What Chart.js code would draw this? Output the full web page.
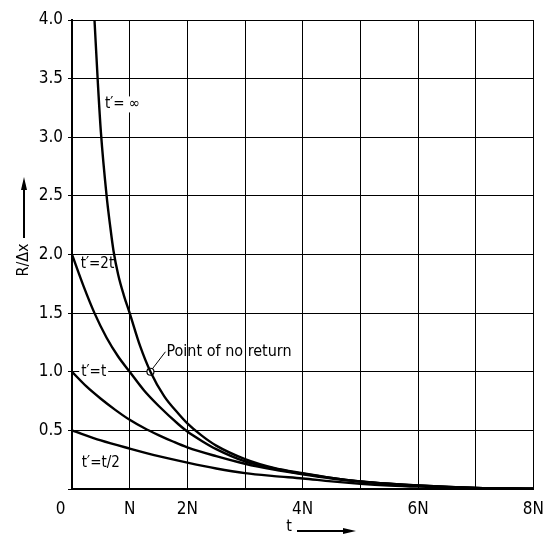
<!DOCTYPE html>
<html>
<head>
<meta charset="utf-8">
<script src="https://cdn.jsdelivr.net/npm/chart.js@4"></script>
<style>
  html, body { margin: 0; padding: 0; background: #fff; }
  #wrap { width: 554px; height: 537px; }
</style>
</head>
<body>
<div id="wrap"><canvas id="myChart" width="554" height="537"></canvas></div>
<script>
// t in units of N, values R/dx
const tInf = [0.39, 0.45, 0.5, 0.6, 0.66, 0.72, 0.8, 0.9, 1.0, 1.18, 1.36, 1.6, 1.85, 2.0, 2.25, 2.5, 3.0, 3.5, 4.0, 4.5, 5.0, 5.5, 6.0, 7.0, 8.0];
const vInf = [4.0, 3.45, 3.05, 2.5, 2.25, 2.03, 1.83, 1.65, 1.5, 1.22, 1.0, 0.79, 0.64, 0.56, 0.455, 0.37, 0.255, 0.18, 0.135, 0.095, 0.065, 0.045, 0.03, 0.01, 0.003];

const t2t = [0, 0.2, 0.39, 0.6, 0.8, 1.0, 1.25, 1.5, 1.85, 2.0, 2.25, 2.5, 3.0, 3.5, 4.0, 4.5, 5.0, 5.5, 6.0, 7.0, 8.0];
const v2t = [2.0, 1.73, 1.5, 1.29, 1.13, 1.0, 0.84, 0.71, 0.55, 0.49, 0.41, 0.34, 0.235, 0.175, 0.13, 0.095, 0.065, 0.045, 0.03, 0.01, 0.003];

const t1t = [0, 0.25, 0.5, 0.75, 1.0, 1.25, 1.5, 1.75, 2.0, 2.5, 3.0, 3.5, 4.0, 4.5, 5.0, 5.5, 6.0, 7.0, 8.0];
const v1t = [1.0, 0.875, 0.77, 0.675, 0.59, 0.52, 0.46, 0.405, 0.355, 0.28, 0.215, 0.165, 0.125, 0.09, 0.063, 0.043, 0.028, 0.01, 0.003];

const tHalf = [0, 0.5, 1.0, 1.5, 2.0, 2.5, 3.0, 3.5, 4.0, 4.5, 5.0, 5.5, 6.0, 7.0, 8.0];
const vHalf = [0.5, 0.415, 0.345, 0.28, 0.225, 0.175, 0.135, 0.11, 0.09, 0.065, 0.045, 0.03, 0.02, 0.007, 0.002];

const noReturn = [1.36, 1.0];

const xTickLabels = ['0\u2002\u2002\u2002', 'N', '2N', '', '4N', '', '6N', '', '8N'];
const yMax = 4.0;

const FONT = "'Liberation Sans Narrow', 'DejaVu Sans Condensed', sans-serif";

function pts(xs, ys) {
  return xs.map((x, i) => ({x: x, y: ys[i]}));
}

function curve(label, xs, ys) {
  return {
    label: label,
    data: pts(xs, ys),
    borderColor: '#000',
    borderWidth: 2.4,
    pointRadius: 0,
    cubicInterpolationMode: 'monotone',
    fill: false
  };
}

const decor = {
  id: 'decor',
  // curve labels sit under the curves, over the grid
  beforeDatasetsDraw(chart) {
    const c = chart.ctx;
    const xs = chart.scales.x, ys = chart.scales.y;
    c.save();
    c.font = '15px ' + FONT;
    c.textBaseline = 'middle';
    c.textAlign = 'left';
    const labels = [
      ["t\u2032= \u221E", 0.57, 3.28],
      ["t\u2032=2t", 0.15, 1.92],
      ["t\u2032=t", 0.16, 1.0],
      ["t\u2032=t/2", 0.17, 0.22]
    ];
    labels.forEach(l => {
      const px = xs.getPixelForValue(l[1]);
      const py = ys.getPixelForValue(l[2]);
      const w = c.measureText(l[0]).width;
      c.fillStyle = '#fff';
      c.fillRect(px - 2, py - 8, w + 4, 16);
      c.fillStyle = '#000';
      c.fillText(l[0], px, py);
    });
    c.restore();
  },
  afterDatasetsDraw(chart) {
    const c = chart.ctx;
    const xs = chart.scales.x, ys = chart.scales.y;
    c.save();
    c.fillStyle = '#000';
    c.strokeStyle = '#000';
    c.font = '16px ' + FONT;
    c.textBaseline = 'middle';
    c.textAlign = 'left';

    // point of no return leader + text
    const p0x = xs.getPixelForValue(noReturn[0]);
    const p0y = ys.getPixelForValue(noReturn[1]);
    c.lineWidth = 1;
    c.beginPath();
    c.moveTo(p0x + 2, p0y - 3);
    c.lineTo(p0x + 15, p0y - 20);
    c.stroke();
    c.fillText('Point of no return', p0x + 16, p0y - 20);

    // y title with arrow
    c.save();
    c.translate(24, 260);
    c.rotate(-Math.PI / 2);
    c.textAlign = 'center';
    c.fillText('R/\u0394x', 0, 0);
    c.restore();
    c.lineWidth = 2;
    c.beginPath();
    c.moveTo(24, 238);
    c.lineTo(24, 185);
    c.stroke();
    c.beginPath();
    c.moveTo(24, 177);
    c.lineTo(21, 190);
    c.lineTo(27, 190);
    c.closePath();
    c.fill();

    // x title with arrow
    c.textAlign = 'center';
    c.fillText('t', 289, 527);
    c.beginPath();
    c.moveTo(297, 531);
    c.lineTo(345, 531);
    c.stroke();
    c.beginPath();
    c.moveTo(356, 531);
    c.lineTo(343, 528);
    c.lineTo(343, 534);
    c.closePath();
    c.fill();
    c.restore();
  }
};

const ctx = document.getElementById('myChart');
new Chart(ctx, {
  type: 'line',
  data: {
    datasets: [
      curve("t'=inf", tInf, vInf),
      curve("t'=2t", t2t, v2t),
      curve("t'=t", t1t, v1t),
      curve("t'=t/2", tHalf, vHalf),
      {
        label: 'Point of no return',
        type: 'scatter',
        data: [{x: noReturn[0], y: noReturn[1]}],
        pointRadius: 3.5,
        pointBackgroundColor: '#fff',
        pointBorderColor: '#000',
        pointBorderWidth: 1.2
      }
    ]
  },
  options: {
    responsive: false,
    animation: false,
    layout: { padding: { top: 20, right: 16, left: 0, bottom: 0 } },
    plugins: { legend: { display: false }, tooltip: { enabled: false } },
    scales: {
      x: {
        type: 'linear',
        min: 0, max: 8,
        afterFit(s) { s.height = 48; },
        ticks: {
          stepSize: 1,
          color: '#000',
          font: { family: FONT, size: 17 },
          padding: 10,
          maxRotation: 0,
          callback: (v) => xTickLabels[v] || ''
        },
        grid: { color: '#000', lineWidth: 1, drawTicks: false },
        border: { color: '#000', width: 2 }
      },
      y: {
        min: 0, max: yMax,
        afterFit(s) { s.width = 72; },
        ticks: {
          stepSize: 0.5,
          color: '#000',
          font: { family: FONT, size: 17 },
          padding: 5,
          callback: (v) => v === 0 ? '' : v.toFixed(1)
        },
        grid: { color: '#000', lineWidth: 1, drawTicks: true, tickLength: 4 },
        border: { color: '#000', width: 2 }
      }
    }
  },
  plugins: [decor]
});
</script>
</body>
</html>
